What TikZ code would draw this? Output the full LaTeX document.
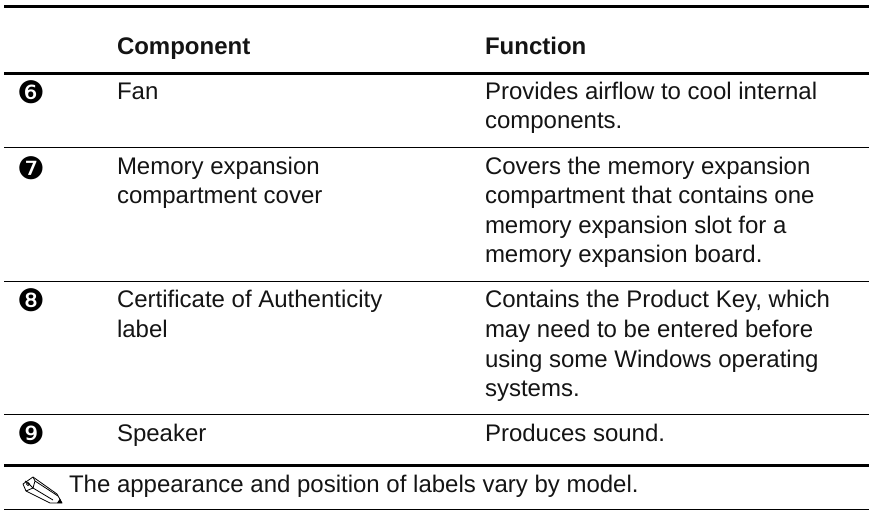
\documentclass[tikz,border=0pt]{standalone}
\usepackage{fontspec}
\setmainfont{Liberation Sans}
\newfontfamily\dejavu{DejaVu Sans}
\tikzset{x=1pt,y=-1pt,
 txt/.style={anchor=base west,inner sep=0pt,outer sep=0pt,font=\fontsize{24}{29}\selectfont,text=black!92},
 hdr/.style={txt,font=\fontsize{24}{29}\selectfont\bfseries},
 num/.style={anchor=center,inner sep=0pt,font=\fontsize{31}{31}\dejavu},
 thick rule/.style={line width=3pt,black},
 thin rule/.style={line width=1pt,black}}
\begin{document}
\begin{tikzpicture}
\useasboundingbox (0,0) rectangle (869,510);
\coordinate (l1) at (4,6.5); \coordinate (r1) at (869,6.5);
\coordinate (l2) at (4,73.3); \coordinate (r2) at (869,73.3);
\coordinate (l3) at (4,147.2); \coordinate (r3) at (869,147.2);
\coordinate (l4) at (4,281.2); \coordinate (r4) at (869,281.2);
\coordinate (l5) at (4,414.3); \coordinate (r5) at (869,414.3);
\coordinate (l6) at (4,465.5); \coordinate (r6) at (869,465.5);
\coordinate (l7) at (4,509); \coordinate (r7) at (869,509);
\draw[thick rule] (l1)--(r1);
\draw[thick rule] (l2)--(r2);
\draw[thin rule] (l3)--(r3);
\draw[thin rule] (l4)--(r4);
\draw[thin rule] (l5)--(r5);
\draw[thick rule] (l6)--(r6);
\draw[thin rule] (l7)--(r7);
\node[hdr] (hc) at (117,55) {Component};
\node[hdr] (hf) at (485,55) {Function};
\node[num] (n6) at (31.5,92.5) {❻};
\node[txt] (c6) at (117,100) {Fan};
\node[txt] (f6) at (485,100) {Provides airflow to cool internal};
\node[txt] (f6b) at (485,129) {components.};
\node[num] (n7) at (31.5,168) {❼};
\node[txt] (c7) at (117,175) {Memory expansion};
\node[txt] (c7b) at (117,204) {compartment cover};
\node[txt] (f7) at (485,175) {Covers the memory expansion};
\node[txt] (f7b) at (485,204) {compartment that contains one};
\node[txt] (f7c) at (485,233.5) {memory expansion slot for a};
\node[txt] (f7d) at (485,263) {memory expansion board.};
\node[num] (n8) at (31.5,300) {❽};
\node[txt] (c8) at (117,308) {Certificate of Authenticity};
\node[txt] (c8b) at (117,337) {label};
\node[txt] (f8) at (485,308) {Contains the Product Key, which};
\node[txt] (f8b) at (485,337) {may need to be entered before};
\node[txt] (f8c) at (485,367) {using some Windows operating};
\node[txt] (f8d) at (485,396) {systems.};
\node[num] (n9) at (31.5,433.5) {❾};
\node[txt] (c9) at (117,441) {Speaker};
\node[txt] (f9) at (485,441) {Produces sound.};
\node[txt] (note) at (69,492) {The appearance and position of labels vary by model.};
% pencil
\draw[line width=0.8pt,line join=round] (33,477)--(57,494)--(62,503)--(50,503)--(26,491)--(23,484)--cycle;
\draw[line width=0.8pt] (26,491)--(33,488)--(35,481)--(33,477) (35,481)--(58,496) (33,488)--(53,500);
\draw[line width=0.8pt] (25,481)--(30,485)--(33,488) (28,484) circle[radius=1.6];
\fill (62,503)--(57,503)--(60,498.5)--cycle;
\end{tikzpicture}
\end{document}
